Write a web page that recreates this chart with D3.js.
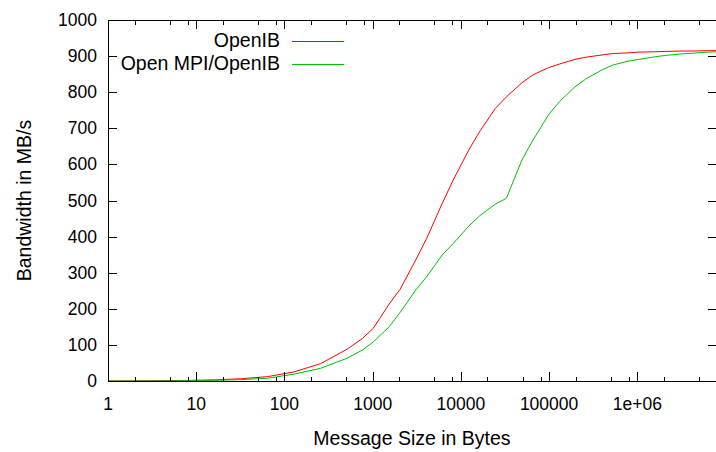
<!DOCTYPE html>
<html>
<head>
<meta charset="utf-8">
<script src="https://cdn.jsdelivr.net/npm/d3@7"></script>
<style>
  body { margin: 0; background: #fff; }
  svg { display: block; font-family: "Liberation Sans", Arial, sans-serif; }
  .tick-label { font-size: 17.5px; fill: #000; }
  .axis-title { font-size: 19.5px; fill: #000; }
  .legend-text { font-size: 19.5px; fill: #000; }
</style>
</head>
<body>
<div id="chart"></div>
<script>
const WIDTH = 716;
const HEIGHT = 452;
const PLOT = { left: 108, right: 717, top: 20, bottom: 381 };

// message sizes in bytes
const sizes = [
  1, 2, 4, 8, 16, 32, 64, 128, 256, 512, 768, 1024, 1536, 2048, 3072, 4096,
  6144, 8192, 12288, 16384, 24576, 32768, 49152, 65536, 98304, 131072,
  196608, 262144, 393216, 524288, 786432, 1048576, 1572864, 2097152,
  3145728, 4194304, 6291456, 8388608,
];

// bandwidth in MB/s
const openib = [
  0.2, 0.4, 0.8, 1.6, 3.2, 6.2, 12, 25, 48, 88, 118, 147, 213, 254, 335, 395,
  492, 557, 640, 692, 755, 787, 826, 848, 868, 878,
  891, 897, 903, 907, 909, 911, 912, 913,
  914, 914, 915, 915,
];

const openmpiOpenib = [
  0.1, 0.2, 0.4, 0.9, 1.8, 3.8, 7.5, 19, 35, 63, 86, 109, 150, 190, 252, 289,
  349, 381, 429, 458, 490, 506, 612, 667, 737, 774,
  815, 837, 861, 875, 886, 891, 898, 902,
  906, 908, 911, 912,
];

const SERIES = [
  { label: "OpenIB", values: openib, color: "#ff0000" },
  { label: "Open MPI/OpenIB", values: openmpiOpenib, color: "#00c000" },
];

const xMajorTicks = [1, 10, 100, 1000, 10000, 100000, 1000000];
const xTickLabels = ["1", "10", "100", "1000", "10000", "100000", "1e+06"];
const yTicks = d3.range(0, 1001, 100);

const svg = d3.select("#chart")
  .append("svg")
  .attr("width", WIDTH)
  .attr("height", HEIGHT);

const x = d3.scaleLog()
  .domain([1, 8e6])
  .range([PLOT.left, PLOT.right]);

const y = d3.scaleLinear()
  .domain([0, 1000])
  .range([PLOT.bottom, PLOT.top]);

// minor log ticks at 2, 5, 8 of each decade
const xMinorTicks = [];
for (let d = 1; d <= 1e6; d *= 10) {
  for (const m of [2, 5, 8]) {
    if (d * m <= 8e6) xMinorTicks.push(d * m);
  }
}

svg.append("defs")
  .append("clipPath")
  .attr("id", "plot-clip")
  .append("rect")
  .attr("x", PLOT.left)
  .attr("y", PLOT.top)
  .attr("width", PLOT.right - PLOT.left)
  .attr("height", PLOT.bottom - PLOT.top);

// —— Lines ——
const line = d3.line()
  .x((d, i) => x(sizes[i]))
  .y((d) => y(d));

svg.append("g")
  .attr("clip-path", "url(#plot-clip)")
  .selectAll("path")
  .data(SERIES)
  .join("path")
  .attr("fill", "none")
  .attr("stroke", (d) => d.color)
  .attr("stroke-width", 1)
  .attr("d", (d) => line(d.values));

// —— Ticks (inward, mirrored like gnuplot) ——
const ticks = svg.append("g")
  .attr("stroke", "#000")
  .attr("stroke-width", 1)
  .attr("shape-rendering", "crispEdges");

const MAJOR = 9;
const MINOR = 4.5;

for (const t of xMajorTicks) {
  const px = Math.round(x(t)) + 0.5;
  ticks.append("line").attr("x1", px).attr("x2", px).attr("y1", PLOT.bottom).attr("y2", PLOT.bottom - MAJOR);
  ticks.append("line").attr("x1", px).attr("x2", px).attr("y1", PLOT.top).attr("y2", PLOT.top + MAJOR);
}
for (const t of xMinorTicks) {
  const px = Math.round(x(t)) + 0.5;
  ticks.append("line").attr("x1", px).attr("x2", px).attr("y1", PLOT.bottom).attr("y2", PLOT.bottom - MINOR);
  ticks.append("line").attr("x1", px).attr("x2", px).attr("y1", PLOT.top).attr("y2", PLOT.top + MINOR);
}
for (const t of yTicks) {
  const py = Math.round(y(t)) + 0.5;
  ticks.append("line").attr("x1", PLOT.left).attr("x2", PLOT.left + MAJOR).attr("y1", py).attr("y2", py);
  ticks.append("line").attr("x1", PLOT.right).attr("x2", PLOT.right - MAJOR).attr("y1", py).attr("y2", py);
}

// border
svg.append("rect")
  .attr("x", PLOT.left + 0.5)
  .attr("y", PLOT.top + 0.5)
  .attr("width", PLOT.right - PLOT.left)
  .attr("height", PLOT.bottom - PLOT.top)
  .attr("fill", "none")
  .attr("stroke", "#000")
  .attr("stroke-width", 1)
  .attr("shape-rendering", "crispEdges");

// —— Tick labels ——
svg.append("g")
  .selectAll("text")
  .data(xMajorTicks)
  .join("text")
  .attr("class", "tick-label")
  .attr("x", (d) => x(d))
  .attr("y", 410)
  .attr("text-anchor", "middle")
  .text((d, i) => xTickLabels[i]);

svg.append("g")
  .selectAll("text")
  .data(yTicks)
  .join("text")
  .attr("class", "tick-label")
  .attr("x", 97)
  .attr("y", (d) => y(d) + 6)
  .attr("text-anchor", "end")
  .text((d) => d);

// —— Axis titles ——
svg.append("text")
  .attr("class", "axis-title")
  .attr("x", 412)
  .attr("y", 445)
  .attr("text-anchor", "middle")
  .text("Message Size in Bytes");

svg.append("text")
  .attr("class", "axis-title")
  .attr("transform", `translate(31, ${(PLOT.top + PLOT.bottom) / 2}) rotate(-90)`)
  .attr("text-anchor", "middle")
  .text("Bandwidth in MB/s");

// —— Legend ——
const legend = svg.append("g");
const legendRow = legend.selectAll("g")
  .data(SERIES)
  .join("g")
  .attr("transform", (d, i) => `translate(0, ${41 + i * 23})`);

legendRow.append("text")
  .attr("class", "legend-text")
  .attr("x", 280)
  .attr("y", 6)
  .attr("text-anchor", "end")
  .text((d) => d.label);

legendRow.append("line")
  .attr("x1", 292)
  .attr("x2", 344)
  .attr("y1", 0.5)
  .attr("y2", 0.5)
  .attr("stroke", (d) => d.color)
  .attr("stroke-width", 1);
</script>
</body>
</html>
